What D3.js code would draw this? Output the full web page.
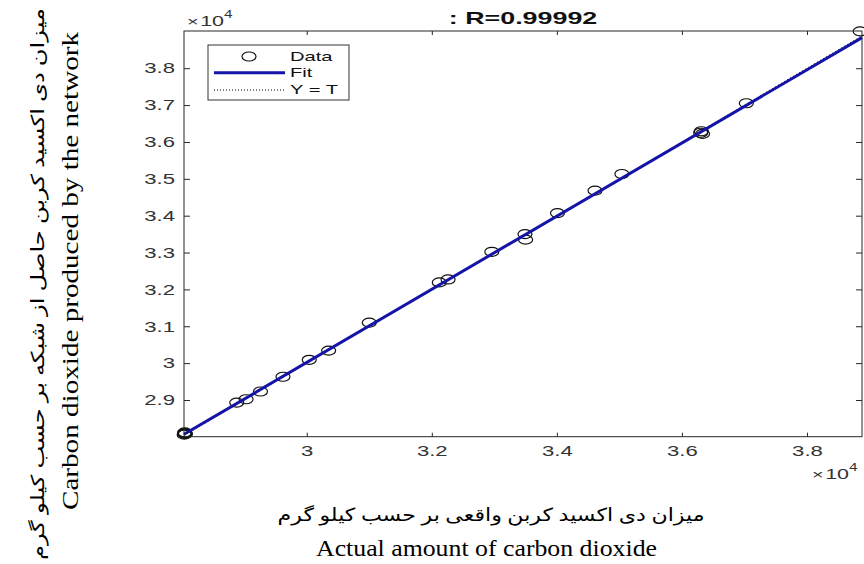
<!DOCTYPE html>
<html>
<head>
<meta charset="utf-8">
<script src="https://cdn.jsdelivr.net/npm/d3@7"></script>
<style>
  html, body { margin: 0; padding: 0; background: #fff; }
  svg { display: block; }
</style>
</head>
<body>
<svg id="chart" width="864" height="564"></svg>
<script>
// ---- data (kg of CO2) ----
const actualValues = [28040, 28050, 28060, 28050, 28045, 28880, 29030, 29260, 29620, 30040, 30350, 31000, 32120, 32260, 32960, 33490, 33500, 34010, 34610, 35040, 36300, 36310, 36330, 37030, 38850];
const predictedValues = [28060, 28090, 28080, 28120, 28100, 28930, 29020, 29230, 29630, 30090, 30340, 31100, 32190, 32270, 33020, 33500, 33350, 34070, 34680, 35130, 36250, 36290, 36220, 37050, 39000];
const fitX = [28037, 38880];
const fitY = [28070, 38830];
const identityLine = [28037, 38880];
const xTicks = [30000, 32000, 34000, 36000, 38000];
const yTicks = [29000, 30000, 31000, 32000, 33000, 34000, 35000, 36000, 37000, 38000];
const legendLabels = ["Data", "Fit", "Y = T"];
const titleText = ": R=0.99992";
const xLabelFa = "میزان دی اکسید کربن واقعی بر حسب کیلو گرم";
const xLabelEn = "Actual amount of carbon dioxide";
const yLabelFa = "میزان دی اکسید کربن حاصل از شبکه بر حسب کیلو گرم";
const yLabelEn = "Carbon dioxide produced by the network";

// ---- layout ----
const L = 184, R = 862, T = 31, B = 436.7;
const SX = 1.58; // horizontal stretch of the figure text
const axisColor = "#262626", tickText = "#333";
const blue = "#1414a8";
const sans = "'Liberation Sans', Arial, sans-serif";
const serif = "'Liberation Serif', 'Times New Roman', 'DejaVu Sans', serif";

const svg = d3.select("#chart");
svg.append("rect").attr("width", 864).attr("height", 564).attr("fill", "#fff");

const x = d3.scaleLinear().domain([28037, 38880]).range([L, R]);
const y = d3.scaleLinear().domain([28004, 39010]).range([B, T]);
const fmt = v => d3.format("")(+(v / 1e4).toFixed(1));

// plot area content
const plot = svg.append("g");

// Y = T dotted line
plot.append("line")
  .attr("x1", x(identityLine[0])).attr("y1", y(identityLine[0]))
  .attr("x2", x(identityLine[1])).attr("y2", y(identityLine[1]))
  .attr("stroke", "#000").attr("stroke-width", 1).attr("stroke-dasharray", "1,2.5");

// data circles
plot.selectAll("ellipse.pt").data(actualValues).join("ellipse")
  .attr("class", "pt")
  .attr("cx", d => x(d))
  .attr("cy", (d, i) => y(predictedValues[i]))
  .attr("rx", 7).attr("ry", 4.5)
  .attr("fill", "none").attr("stroke", "#111").attr("stroke-width", 1.2);

// fit line
plot.append("line")
  .attr("x1", x(fitX[0])).attr("y1", y(fitY[0]))
  .attr("x2", x(fitX[1])).attr("y2", y(fitY[1]))
  .attr("stroke", blue).attr("stroke-width", 3);

// axes (MATLAB box with inward ticks)
const xAxis = svg.append("g").attr("transform", `translate(0,${B})`)
  .call(d3.axisBottom(x).tickValues(xTicks).tickSizeInner(-4).tickSizeOuter(0).tickFormat(fmt));
xAxis.select(".domain").remove();
xAxis.selectAll("line").attr("stroke", axisColor);
xAxis.selectAll("text").attr("y", 19.3).attr("dy", null)
  .attr("transform", `scale(${SX},1)`)
  .attr("font-family", sans).attr("font-size", 14).attr("fill", tickText);

const xAxisTop = svg.append("g").attr("transform", `translate(0,${T})`)
  .call(d3.axisTop(x).tickValues(xTicks).tickSizeInner(-4).tickSizeOuter(0).tickFormat(""));
xAxisTop.select(".domain").remove();
xAxisTop.selectAll("line").attr("stroke", axisColor);

const yAxis = svg.append("g").attr("transform", `translate(${L},0)`)
  .call(d3.axisLeft(y).tickValues(yTicks).tickSizeInner(-6).tickSizeOuter(0).tickFormat(fmt));
yAxis.select(".domain").remove();
yAxis.selectAll("line").attr("stroke", axisColor);
yAxis.selectAll("text").attr("x", -9 / SX).attr("dy", "0.34em")
  .attr("transform", `scale(${SX},1)`)
  .attr("font-family", sans).attr("font-size", 14).attr("fill", tickText);

const yAxisRight = svg.append("g").attr("transform", `translate(${R},0)`)
  .call(d3.axisRight(y).tickValues(yTicks).tickSizeInner(-6).tickSizeOuter(0).tickFormat(""));
yAxisRight.select(".domain").remove();
yAxisRight.selectAll("line").attr("stroke", axisColor);

svg.append("rect").attr("x", L).attr("y", T).attr("width", R - L).attr("height", B - T)
  .attr("fill", "none").attr("stroke", axisColor).attr("stroke-width", 1);

// exponent labels
function expLabel(px, py) {
  const t = svg.append("text").attr("transform", `translate(${px},${py}) scale(${SX * 0.97},1)`)
    .attr("font-family", sans).attr("fill", tickText);
  t.append("tspan").attr("font-size", 13).text("×");
  t.append("tspan").attr("font-size", 14).attr("dx", 1).text("10");
  t.append("tspan").attr("font-size", 10).attr("dy", -8).text("4");
}
expLabel(187, 26);
expLabel(812, 479);

// title
svg.append("text").attr("transform", `translate(${(L + R) / 2},24) scale(${SX},1)`)
  .attr("text-anchor", "middle").attr("font-family", sans).attr("font-weight", "bold")
  .attr("font-size", 17).attr("fill", "#111").text(titleText);

// legend
const lg = svg.append("g");
lg.append("rect").attr("x", 208).attr("y", 45).attr("width", 141).attr("height", 55)
  .attr("fill", "#fff").attr("stroke", "#333").attr("stroke-width", 1);
lg.append("ellipse").attr("cx", 249).attr("cy", 56.5).attr("rx", 7).attr("ry", 4.5)
  .attr("fill", "none").attr("stroke", "#111").attr("stroke-width", 1.2);
lg.append("line").attr("x1", 214).attr("x2", 285).attr("y1", 72.7).attr("y2", 72.7)
  .attr("stroke", blue).attr("stroke-width", 3);
lg.append("line").attr("x1", 214).attr("x2", 285).attr("y1", 90).attr("y2", 90)
  .attr("stroke", "#000").attr("stroke-width", 1).attr("stroke-dasharray", "1,2");
[61, 77, 94].forEach((by, i) => {
  lg.append("text").attr("transform", `translate(290,${by}) scale(1.55,1)`)
    .attr("font-family", sans).attr("font-size", 13).attr("fill", "#111").text(legendLabels[i]);
});

// axis labels
svg.append("text").attr("x", 491).attr("y", 521).attr("text-anchor", "middle")
  .attr("font-family", serif).attr("font-size", 18).attr("fill", "#000")
  .attr("textLength", 427).attr("lengthAdjust", "spacingAndGlyphs").text(xLabelFa);
svg.append("text").attr("x", 486.5).attr("y", 556).attr("text-anchor", "middle")
  .attr("font-family", serif).attr("font-size", 22.5).attr("fill", "#000")
  .attr("textLength", 341).attr("lengthAdjust", "spacingAndGlyphs").text(xLabelEn);

svg.append("text").attr("transform", "translate(44,284) rotate(-90)").attr("text-anchor", "middle")
  .attr("font-family", serif).attr("font-size", 18).attr("fill", "#000")
  .attr("textLength", 552).attr("lengthAdjust", "spacingAndGlyphs").text(yLabelFa);
svg.append("text").attr("transform", "translate(78,271) rotate(-90)").attr("text-anchor", "middle")
  .attr("font-family", serif).attr("font-size", 22.5).attr("fill", "#000")
  .attr("textLength", 478).attr("lengthAdjust", "spacingAndGlyphs").text(yLabelEn);
</script>
</body>
</html>
